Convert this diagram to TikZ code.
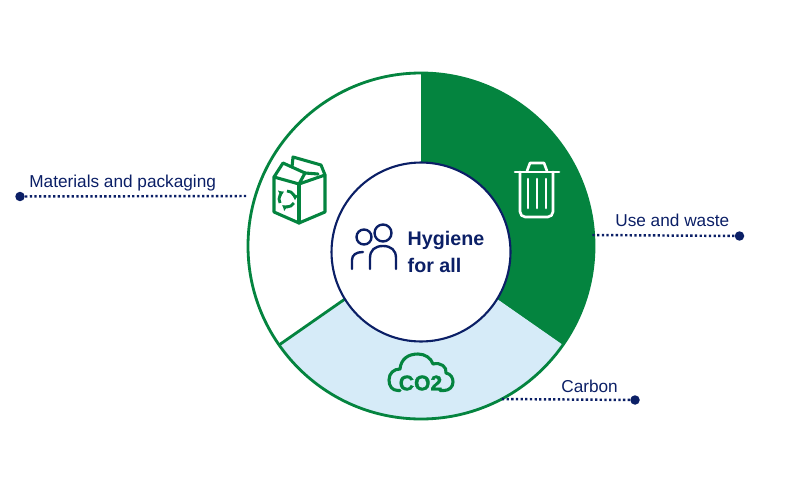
\documentclass[tikz,border=0pt]{standalone}
\usepackage{fontspec}
\setmainfont{Liberation Sans}
\newfontfamily\blockfont[FakeBold=1.6]{Liberation Sans Bold}
\usetikzlibrary{arrows.meta}
\definecolor{ringgreen}{HTML}{04843F}
\definecolor{paleblue}{HTML}{D6EBF8}
\definecolor{inknavy}{HTML}{0B1F66}
\tikzset{
    caption/.style={text=inknavy, font=\fontsize{9.8}{12}\selectfont, inner sep=0pt, anchor=base west},
    leader/.style={color=inknavy, line width=1.4pt, dash pattern=on 1.3pt off 1.35pt},
    leaddot/.style={circle, fill=inknavy, inner sep=0pt, minimum size=5.4pt},
    iconline/.style={color=ringgreen, line width=1.75pt, line join=round, line cap=round},
    recycleline/.style={color=ringgreen, line width=1.6pt, -{Latex[length=2.6pt, width=4.4pt]}},
    binline/.style={color=white, line width=1.5pt, line join=round, line cap=round},
    peopleline/.style={color=inknavy, line width=1.35pt, line cap=round}
}
\begin{document}
\begin{tikzpicture}[x=0.02cm, y=-0.02cm]
    \useasboundingbox (0,0) rectangle (800,500);

    % Ring segments
    \fill[ringgreen] (421,246) -- (421,73) arc (-90:35:173) -- cycle;
    \fill[paleblue] (421,246) -- (563,345) arc (35:145:173) -- cycle;
    \draw[color=ringgreen, line width=1.6pt] (421,246) circle (173);
    \draw[color=ringgreen, line width=1.6pt] (421,246) -- (279,345);

    % Hub
    \node[circle, draw=inknavy, fill=white, line width=1.2pt, minimum size=3.58cm, inner sep=0pt] (hub) at (421,252) {};
    \node[text=inknavy, font=\fontsize{11.2}{15.5}\selectfont\bfseries, align=left, inner sep=0pt] (hubtext) at (446,252) {Hygiene\\for all};

    % People
    \draw[peopleline] (364,237) circle (7.5);
    \draw[peopleline] (383,233) circle (8.5);
    \draw[peopleline] (352,269) -- (352,260) .. controls (352,255) and (356,252) .. (363,252);
    \draw[peopleline] (370,269) -- (370,258) .. controls (370,250) and (375,246) .. (383,246)
        .. controls (391,246) and (396,250) .. (396,258) -- (396,269);

    % Carton
    \draw[iconline] (299,184) -- (274,177) -- (274,212) -- (299,223) -- (325,212) -- (325,175) -- cycle;
    \draw[iconline] (299,184) -- (299,223);
    \draw[iconline] (274,177) -- (283,163) -- (305,173) -- (299,184);
    \draw[iconline] (292,167) -- (293,157) -- (321,165) -- (325,175);
    \draw[iconline] (305,173) -- (318,174);
    \foreach \startangle in {150,270,30} {
        \draw[recycleline] (287,199) ++(\startangle:8) arc (\startangle:\startangle+95:8);
    }

    % Bin
    \draw[binline] (515,172) -- (559,172);
    \draw[binline] (527,171) -- (530,163) -- (544,163) -- (547,171);
    \draw[binline, rounded corners=3pt] (520,172) -- (520,217) -- (553,217) -- (553,172);
    \foreach \xbar in {528,537,546} {
        \draw[binline] (\xbar,179) -- (\xbar,208);
    }

    % Cloud
    \draw[iconline] (400,390.5) -- (398,390.5) .. controls (392,390.5) and (389,386) .. (389,380)
        .. controls (389,373) and (394,369) .. (400,369)
        .. controls (401,359) and (408,354) .. (418,354)
        .. controls (425,354) and (431,358) .. (433,364)
        .. controls (441,362) and (447,367) .. (446,373)
        .. controls (451,374) and (453,378) .. (453,382)
        .. controls (453,387) and (449,390.5) .. (444,390.5) -- (440,390.5);
    \node[text=ringgreen, font=\fontsize{12}{12}\blockfont, inner sep=0pt] (cotwo) at (420.5,383) {CO2};

    % Leaders
    \coordinate (matend) at (248,196);
    \coordinate (useend) at (591,235);
    \coordinate (carbend) at (500,399);
    \node[leaddot] (matdot) at (20,196.5) {};
    \node[leaddot] (usedot) at (739.5,236) {};
    \node[leaddot] (carbdot) at (635,400) {};
    \draw[leader] (matdot) -- (matend);
    \draw[leader] (usedot) -- (useend);
    \draw[leader] (carbdot) -- (carbend);

    % Captions
    \node[caption] (matlabel) at (29,187) {Materials and packaging};
    \node[caption] (uselabel) at (615,226) {Use and waste};
    \node[caption] (carblabel) at (561,392) {Carbon};
\end{tikzpicture}
\end{document}
